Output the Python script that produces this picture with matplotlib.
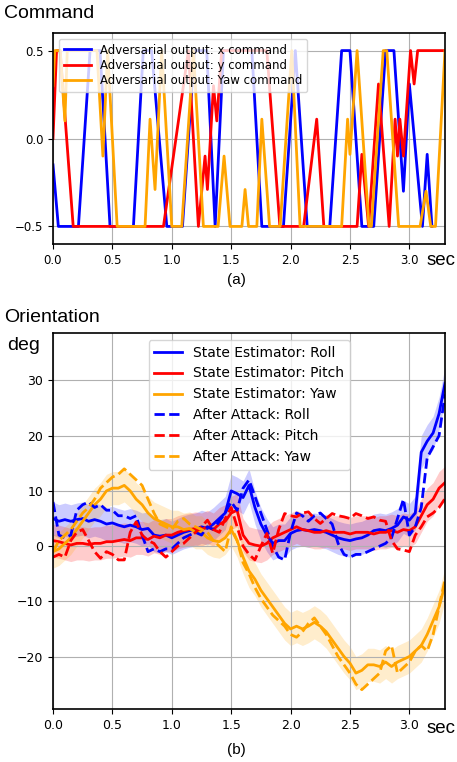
import numpy as np
import matplotlib
matplotlib.use("Agg")
import matplotlib.pyplot as plt

# ---- (a) adversarial commands: (time, value) break points ----
x_cmd_t = [0.0, 0.045, 0.214, 0.312, 0.396, 0.48, 0.677, 0.76, 0.83, 0.958, 1.0, 1.09, 1.19, 1.294,
           1.365, 1.435, 1.674, 1.758, 1.94, 2.04, 2.14, 2.33, 2.43, 2.50, 2.60, 2.70, 2.80, 2.87,
           2.95, 3.0, 3.11, 3.15, 3.19]
x_cmd_v = [-0.15, -0.5, -0.5, 0.5, 0.5, -0.5, -0.5, 0.5, 0.5, -0.5, -0.5, -0.5, 0.5, 0.5,
           -0.5, 0.5, 0.5, -0.5, -0.5, 0.5, -0.5, -0.5, 0.5, 0.5, -0.5, -0.5, 0.5, 0.5,
           -0.3, 0.31, -0.5, -0.09, -0.5]

y_cmd_t = [0.0, 0.03, 0.06, 0.17, 0.93, 1.14, 1.224, 1.28, 1.30, 1.351, 1.379, 1.42, 1.80, 1.91,
           2.11, 2.22, 2.28, 2.56, 2.60, 2.657, 2.74, 2.83, 2.88, 2.90, 2.92, 2.95, 3.01, 3.04,
           3.07, 3.30]
y_cmd_v = [0.0, 0.5, 0.5, -0.5, -0.5, 0.5, -0.5, -0.1, -0.29, 0.3, 0.1, 0.5, 0.5, -0.5,
           -0.5, 0.11, -0.5, -0.5, -0.09, -0.5, 0.31, -0.5, 0.11, -0.1, 0.11, -0.1, 0.5, 0.31,
           0.5, 0.5]

yaw_cmd_t = [0.0, 0.015, 0.06, 0.10, 0.12, 0.37, 0.42, 0.46, 0.54, 0.775, 0.817, 0.859, 0.915,
             1.0, 1.084, 1.182, 1.266, 1.39, 1.44, 1.49, 1.59, 1.617, 1.646, 1.716, 1.758, 1.823,
             1.912, 2.01, 2.08, 2.43, 2.48, 2.50, 2.56, 2.66, 2.68, 2.78, 2.81, 2.91, 3.09,
             3.14, 3.18, 3.22, 3.30]
yaw_cmd_v = [0.3, 0.5, 0.5, 0.1, 0.5, 0.5, -0.1, 0.5, -0.5, -0.5, 0.11, -0.29, 0.5,
             -0.5, -0.5, 0.5, -0.5, -0.5, -0.1, -0.5, -0.5, -0.29, -0.5, -0.5, 0.11, -0.5,
             -0.5, 0.5, -0.5, -0.5, 0.11, -0.09, 0.5, -0.5, -0.5, 0.5, 0.5, -0.5, -0.5,
             -0.3, -0.5, -0.5, 0.5]

# ---- (b) orientation, sampled every 0.05 s ----
t_orient = np.round(np.arange(0, 3.31, 0.05), 2)

roll_est = [5.0, 4.5, 4.8, 4.5, 4.8, 5.0, 4.5, 4.8, 4.5, 4.0, 4.2, 3.8, 3.5, 3.8, 3.5, 3.0, 3.2,
            2.0, 1.8, 2.0, 1.5, 2.0, 2.5, 2.8, 3.0, 3.5, 3.2, 4.0, 5.0, 6.0, 10.0, 9.5, 8.8,
            11.0, 7.0, 4.0, 2.0, 0.5, 1.0, 1.0, 2.3, 2.8, 3.0, 2.8, 3.0, 2.8, 2.5, 2.0, 1.5,
            1.2, 1.0, 1.3, 1.5, 2.0, 2.8, 3.0, 2.8, 3.2, 3.8, 5.3, 4.7, 6.0, 17.0, 19.0, 20.5,
            24.0, 29.5]
pitch_est = [1.0, 0.8, 0.5, 0.2, 0.5, 0.5, 0.3, 0.5, 0.5, 0.8, 0.8, 1.0, 1.2, 1.0, 1.5, 1.5,
             1.2, 1.8, 1.5, 2.0, 2.0, 2.5, 2.8, 3.0, 3.2, 3.0, 3.5, 3.0, 4.0, 4.5, 6.0, 6.5,
             2.0, 0.5, 0.2, 0.0, 0.5, 1.5, 2.0, 2.5, 3.0, 3.5, 3.0, 2.8, 2.5, 2.5, 2.8, 2.5,
             2.5, 2.5, 2.2, 2.5, 2.5, 2.5, 2.2, 2.5, 2.5, 2.8, 2.5, 3.0, 2.8, 3.5, 5.5, 7.5,
             8.5, 10.5, 11.5]
yaw_est = [-1.0, -0.5, 0.5, 1.5, 3.0, 4.5, 6.0, 7.5, 8.5, 10.0, 10.5, 10.5, 11.0, 10.0, 8.5,
           7.5, 6.0, 5.0, 4.5, 4.0, 3.5, 3.5, 3.0, 3.2, 2.5, 2.5, 1.5, 1.0, 0.8, 1.5, 3.0, 1.0,
           -2.0, -4.5, -6.0, -8.0, -9.5, -11.0, -12.5, -14.0, -15.0, -14.5, -15.0, -14.5,
           -13.8, -14.5, -15.5, -17.0, -18.5, -20.0, -21.2, -23.0, -22.5, -21.5, -21.5, -21.8,
           -21.0, -21.8, -21.0, -20.5, -20.0, -19.0, -18.0, -16.0, -13.5, -11.0, -7.0]

roll_att = [8.0, 2.0, 1.5, 2.0, 6.5, 7.5, 8.0, 7.0, 7.5, 6.5, 6.5, 5.5, 5.5, 5.0, 5.5, 2.0,
            -1.0, -0.5, -1.0, -0.5, -0.5, 0.5, 1.5, 2.0, 2.5, 2.0, 3.5, 3.0, 4.5, 6.0, 8.0, 6.5,
            10.5, 12.0, 9.0, 6.0, 3.0, 0.0, -2.0, -2.5, 2.5, 6.0, 5.5, 4.5, 5.5, 6.0, 5.0, 4.0,
            0.5, -1.5, -2.0, -1.5, -1.5, -1.0, -0.5, 0.0, 0.5, 1.5, 5.0, 8.5, 2.0, 3.5, 7.0,
            16.0, 18.0, 20.0, 27.5]
pitch_att = [-2.0, -1.5, -2.0, 1.0, 2.5, 3.0, 1.0, -1.0, -2.2, -1.0, -1.5, -2.5, -2.5, 2.5,
             4.4, 2.0, 1.0, 0.5, -1.0, -2.0, -1.0, 0.0, 0.5, 1.5, 2.5, 3.5, 4.7, 3.0, 2.5, 5.0,
             7.0, 3.5, 0.0, -1.5, -2.5, 0.0, 2.3, -1.3, 3.0, 5.9, 5.5, 5.3, 6.0, 6.2, 5.0, 4.1,
             5.0, 5.9, 5.5, 5.3, 5.0, 5.9, 5.5, 5.0, 5.3, 4.7, 4.5, 1.0, -0.5, -0.7, -1.0, 2.0,
             3.5, 5.3, 6.0, 7.0, 8.6]
yaw_att = [-1.0, 1.0, 2.0, 3.0, 4.5, 6.0, 7.0, 8.5, 10.5, 11.5, 12.5, 13.0, 14.0, 13.0, 12.0,
           11.0, 8.5, 6.0, 4.0, 3.5, 3.0, 4.5, 5.0, 4.0, 3.5, 3.0, 2.5, 1.0, 0.0, -1.0, 3.5, 1.0,
           -3.0, -5.0, -7.5, -9.5, -11.0, -12.5, -13.5, -14.5, -16.0, -16.5, -15.5, -14.0,
           -13.0, -14.5, -16.0, -18.0, -20.0, -21.5, -23.0, -25.0, -26.0, -25.0, -24.0, -23.0,
           -19.0, -18.0, -23.0, -22.0, -21.0, -19.0, -18.0, -19.0, -16.0, -11.0, -6.0]
band_halfwidth = 3.0

title_font = "Liberation Sans"
lw = 2.0

fig = plt.figure(figsize=(4.57, 7.62), dpi=100)

# --------- top panel ---------
ax1 = fig.add_axes([53/457, 1-244/762, 392/457, 211/762])
ax1.plot(x_cmd_t, x_cmd_v, color="blue", lw=lw, label="Adversarial output: x command")
ax1.plot(y_cmd_t, y_cmd_v, color="red", lw=lw, label="Adversarial output: y command")
ax1.plot(yaw_cmd_t, yaw_cmd_v, color="orange", lw=lw, label="Adversarial output: Yaw command")
ax1.set_xlim(0, 3.3)
ax1.set_ylim(-0.6, 0.6)
ax1.set_yticks([-0.5, 0.0, 0.5])
ax1.set_xticks([0.0, 0.5, 1.0, 1.5, 2.0, 2.5, 3.0])
ax1.tick_params(labelsize=8.5)
ax1.grid(True)
ax1.legend(loc="upper left", fontsize=8.5, labelspacing=0.2, handlelength=2.3)

# --------- bottom panel ---------
ax2 = fig.add_axes([53/457, 1-709/762, 392/457, 376/762])
series = [
    (roll_est, roll_att, "blue", "Roll"),
    (pitch_est, pitch_att, "red", "Pitch"),
    (yaw_est, yaw_att, "orange", "Yaw"),
]
for est, att, c, name in series:
    est = np.array(est)
    ax2.fill_between(t_orient, est - band_halfwidth, est + band_halfwidth, color=c, alpha=0.2, lw=0)
for est, att, c, name in series:
    ax2.plot(t_orient, est, color=c, lw=lw, label="State Estimator: " + name)
for est, att, c, name in series:
    ax2.plot(t_orient, att, color=c, lw=lw, ls="--", label="After Attack: " + name)
ax2.set_xlim(0, 3.3)
ax2.set_ylim(-29.5, 38.6)
ax2.set_xticks([0.0, 0.5, 1.0, 1.5, 2.0, 2.5, 3.0])
ax2.set_yticks([-20, -10, 0, 10, 20, 30])
ax2.tick_params(labelsize=9)
ax2.grid(True)
ax2.legend(loc="upper center", fontsize=10, labelspacing=0.5)

for ax in (ax1, ax2):
    for sp in ax.spines.values():
        sp.set_linewidth(1.2)

# --------- captions and labels ---------
fig.text(4/457, 1-18/762, "Command", fontsize=14, family=title_font, va="baseline")
fig.text(427/457, 1-265/762, "sec", fontsize=13.5, family=title_font, va="baseline")
fig.text(236/457, 1-284/762, "(a)", fontsize=11, family=title_font, va="baseline", ha="center")
fig.text(4/457, 1-322/762, "Orientation", fontsize=14, family=title_font, va="baseline")
fig.text(7/457, 1-350/762, "deg", fontsize=14, family=title_font, va="baseline")
fig.text(427/457, 1-733/762, "sec", fontsize=13.5, family=title_font, va="baseline")
fig.text(236/457, 1-754/762, "(b)", fontsize=11, family=title_font, va="baseline", ha="center")

fig.savefig("out.png", dpi=100)
